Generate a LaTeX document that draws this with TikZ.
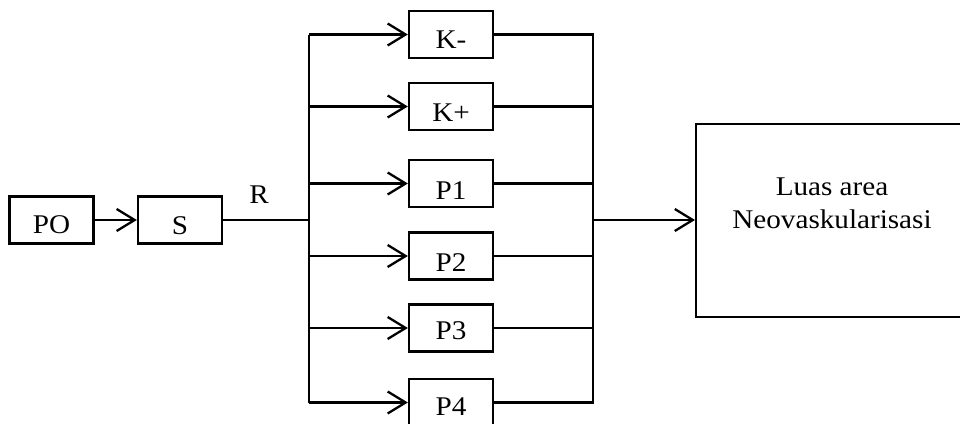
\documentclass[tikz,border=0pt]{standalone}
\usepackage{fontspec}
\setmainfont{Liberation Serif}[FakeStretch=1.08]
\usetikzlibrary{arrows.meta}
\begin{document}
\begin{tikzpicture}[x=1pt,y=-1pt,
  font=\fontsize{27}{33}\selectfont,
  blk/.style={draw, line width=2.3pt, minimum width=84pt, minimum height=47pt, inner sep=0pt},
  lbl/.style={anchor=base, inner sep=0pt},
  wire/.style={line width=2.3pt, line join=miter},
  arr/.style={wire, -{Straight Barb[length=18pt,width=22pt]}}]
\useasboundingbox (0,0) rectangle (960,423);
\clip (0,0) rectangle (960,423);

% input chain
\node[blk] (po) at (51.5,220) {};
\node[blk] (s) at (180,220) {};
\node[lbl] (tpo) at ([yshift=11pt]po.south) {PO};
\node[lbl] (ts) at ([yshift=10pt]s.south) {S};
\node[lbl] (r) at (259,203) {R};

% treatment groups
\node[blk] (km) at (451,34.5) {};
\node[blk] (kp) at (451,106.5) {};
\node[blk] (p1) at (451,183.5) {};
\node[blk] (p2) at (451,256) {};
\node[blk] (p3) at (451,328) {};
\node[blk] (p4) at (451,402.5) {};
\node[lbl] (tkm) at ([yshift=11pt]km.south) {K-};
\node[lbl] (tkp) at ([yshift=10pt]kp.south) {K+};
\node[lbl] (tp1) at ([yshift=9pt]p1.south) {P1};
\node[lbl] (tp2) at ([yshift=9pt]p2.south) {P2};
\node[lbl] (tp3) at ([yshift=13pt]p3.south) {P3};
\node[lbl] (tp4) at ([yshift=12pt]p4.south) {P4};

% outcome
\node[draw, line width=2.3pt, minimum width=280pt, minimum height=193pt,
      anchor=north west, inner sep=0pt] (out) at (695,122.5) {};
\node[lbl] (t1) at (832,195) {Luas area};
\node[lbl] (t2) at (832,228) {Neovaskularisasi};

% connectors
\coordinate (tr) at (309,220);
\coordinate (cr) at (593,220);
\draw[arr] (po.east) -- (s.west);
\draw[wire] (s.east) -- (tr);
\draw[wire] (km.west -| tr) -- (p4.west -| tr);
\foreach \b in {km,kp,p1,p2,p3,p4}
  \draw[arr] (\b.west -| tr) -- (\b.west);
\draw[wire] (km.east) -- (km.east -| cr) -- (p4.east -| cr) -- (p4.east);
\foreach \b in {kp,p1,p2,p3}
  \draw[wire] (\b.east) -- (\b.east -| cr);
\draw[arr] (cr) -- (cr -| out.west);
\end{tikzpicture}
\end{document}
